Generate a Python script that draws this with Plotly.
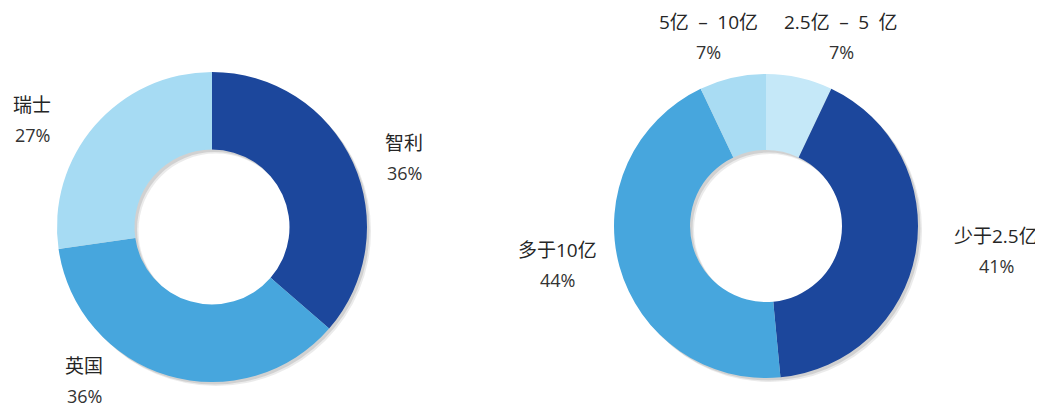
import plotly.graph_objects as go

W, H = 1043, 407
OFF = 8  # default page body margin shifts the figure by this many pixels
FW, FH = W - OFF, H - OFF

# Data
left_labels = ["智利", "英国", "瑞士"]
left_values = [36, 36, 27]
left_colors = ["#1c479c", "#47a6dd", "#a6dbf3"]

right_labels = ["2.5亿\u2002–\u20025\u2002亿", "少于2.5亿", "多于10亿", "5亿\u2002–\u200210亿"]
right_values = [7, 41, 44, 7]
right_colors = ["#c5e8f8", "#1c479c", "#47a6dd", "#a9dcf3"]

FONT = "Open Sans, Noto Sans CJK SC, sans-serif"


def dom(cx, cy, r, dx=0, dy=0):
    cx += dx - OFF
    cy += dy - OFF
    yb = FH - cy
    return dict(x=[(cx - r) / FW, (cx + r) / FW], y=[(yb - r) / FH, (yb + r) / FH])


fig = go.Figure()

# soft shadows
for cx, cy, r, vals in [(212, 227, 155, left_values), (766, 226, 152, right_values)]:
    for k, op in [(4, 0.10), (2.5, 0.14)]:
        fig.add_trace(go.Pie(
            values=[sum(vals)], labels=["s"], hole=0.5, sort=False,
            marker=dict(colors=["rgba(60,60,60,%s)" % op], line=dict(width=0)),
            textinfo="none", hoverinfo="skip", showlegend=False,
            domain=dom(cx, cy, r, dx=k, dy=k)))

fig.add_trace(go.Pie(
    labels=left_labels, values=left_values, hole=0.5, sort=False,
    direction="clockwise", rotation=0,
    marker=dict(colors=left_colors, line=dict(width=0)),
    textinfo="none", showlegend=False,
    domain=dom(212, 227, 155)))

fig.add_trace(go.Pie(
    labels=right_labels, values=right_values, hole=0.5, sort=False,
    direction="clockwise", rotation=0,
    marker=dict(colors=right_colors, line=dict(width=0)),
    textinfo="none", showlegend=False,
    domain=dom(766, 226, 152)))

# label positions (pixel, name line center)
left_pos = [(404, 143), (84, 366), (32, 105)]
right_pos = [(841, 22), (996, 236), (557, 250), (708, 22)]


def add_labels(labels, values, positions):
    for lab, v, (x, y) in zip(labels, values, positions):
        fig.add_annotation(x=(x - OFF) / FW, y=1 - (y - OFF) / FH,
                           xref="paper", yref="paper",
                           text=lab, showarrow=False,
                           font=dict(family=FONT, size=19, color="#262626"),
                           xanchor="center", yanchor="middle")
        fig.add_annotation(x=(x - OFF) / FW, y=1 - (y + 30 - OFF) / FH,
                           xref="paper", yref="paper",
                           text="%d%%" % v, showarrow=False,
                           font=dict(family=FONT, size=18, color="#333333"),
                           xanchor="center", yanchor="middle")


add_labels(left_labels, left_values, left_pos)
add_labels(right_labels, right_values, right_pos)

fig.update_layout(width=FW, height=FH, margin=dict(l=0, r=0, t=0, b=0),
                  paper_bgcolor="white", plot_bgcolor="white", showlegend=False)

fig.write_html("out.html")
